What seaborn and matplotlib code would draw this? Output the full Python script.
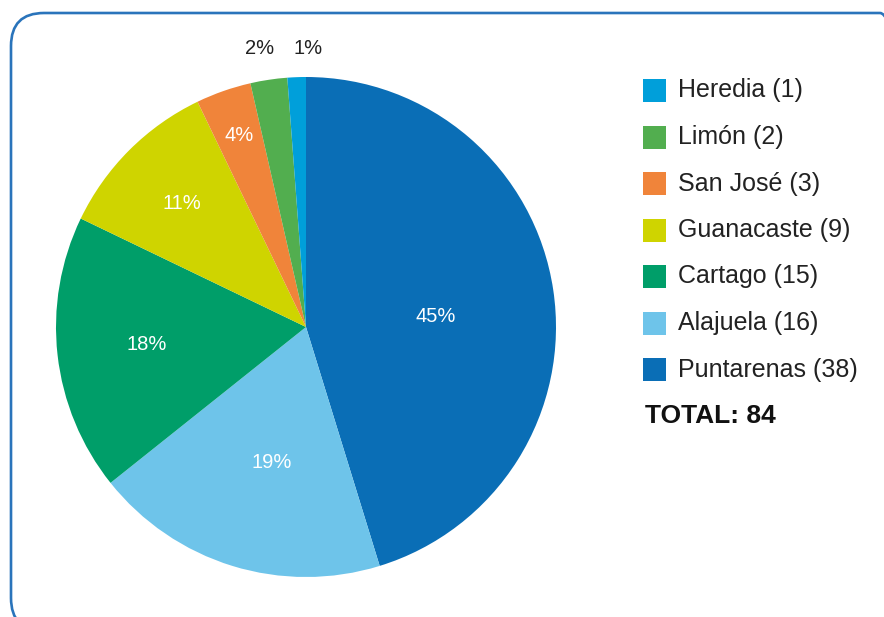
import numpy as np
import matplotlib
matplotlib.use("Agg")
import matplotlib.pyplot as plt
import seaborn as sns
from matplotlib.patches import FancyBboxPatch, Rectangle

# Data: provinces and counts (drawn clockwise from the top)
provinces = ['Puntarenas', 'Alajuela', 'Cartago', 'Guanacaste', 'San José', 'Limón', 'Heredia']
counts = [38, 16, 15, 9, 3, 2, 1]
colors = ['#0A6EB6', '#6EC4EA', '#009E69', '#CFD400', '#F0843A', '#52AE4F', '#009FDA']

# legend is listed in the reverse order
legend_order = ['Heredia', 'Limón', 'San José', 'Guanacaste', 'Cartago', 'Alajuela', 'Puntarenas']

sns.set_style('white')
plt.rcParams['font.family'] = ['Liberation Sans', 'DejaVu Sans']

W, H = 884, 617
fig = plt.figure(figsize=(W / 100, H / 100), dpi=100)

# background axes in pixel units, for the rounded frame
bg = fig.add_axes([0, 0, 1, 1])
bg.set_xlim(0, W)
bg.set_ylim(0, H)
bg.axis('off')
bg.add_patch(FancyBboxPatch((11, -14), 902, H - 13 + 14,
                            boxstyle='round,pad=0,rounding_size=33',
                            fill=False, edgecolor='#2A74BB', linewidth=1.9))

cx, cy, r = 306, 327, 250
ax = fig.add_axes([(cx - r) / W, (H - cy - r) / H, 2 * r / W, 2 * r / H])

total = sum(counts)
wedges, texts, autotexts = ax.pie(
    counts, colors=colors, startangle=90, counterclock=False,
    autopct=lambda p: f'{p:.0f}%', pctdistance=0.54,
    wedgeprops=dict(linewidth=0),
    textprops=dict(color='white', fontsize=14.5))
ax.set_xlim(-1, 1)
ax.set_ylim(-1, 1)

# label placement by slice: distance from centre, optional angle override
label_r = {'Puntarenas': 0.522, 'Alajuela': 0.557, 'Cartago': 0.64,
           'Guanacaste': 0.70, 'San José': 0.81}
label_ang = {'Puntarenas': 4.8, 'Alajuela': -104.1}
# tiny slices: label sits above the pie at this x
outside_x = {'Limón': -0.185, 'Heredia': 0.008}
for name, w, t in zip(provinces, wedges, autotexts):
    ang = np.deg2rad(label_ang.get(name, (w.theta1 + w.theta2) / 2))
    if name in label_r:
        d = label_r[name]
        t.set_position((d * np.cos(ang), d * np.sin(ang)))
    else:
        t.set_position((outside_x[name], 1.115))
        t.set_color('#222222')

# legend
lookup = dict(zip(provinces, zip(counts, colors)))
for i, name in enumerate(legend_order):
    cnt, col = lookup[name]
    y = 90.5 + i * 46.5
    bg.add_patch(Rectangle((643, H - y - 11.5), 23, 23, color=col, linewidth=0))
    bg.text(678, H - y, f'{name} ({cnt})', fontsize=18,
            color='#222222', va='center', ha='left')

bg.text(645, H - 416, f'TOTAL: {total}', fontsize=19,
        fontweight='bold', color='#111111', va='center', ha='left')

fig.savefig('out.png', dpi=100)
